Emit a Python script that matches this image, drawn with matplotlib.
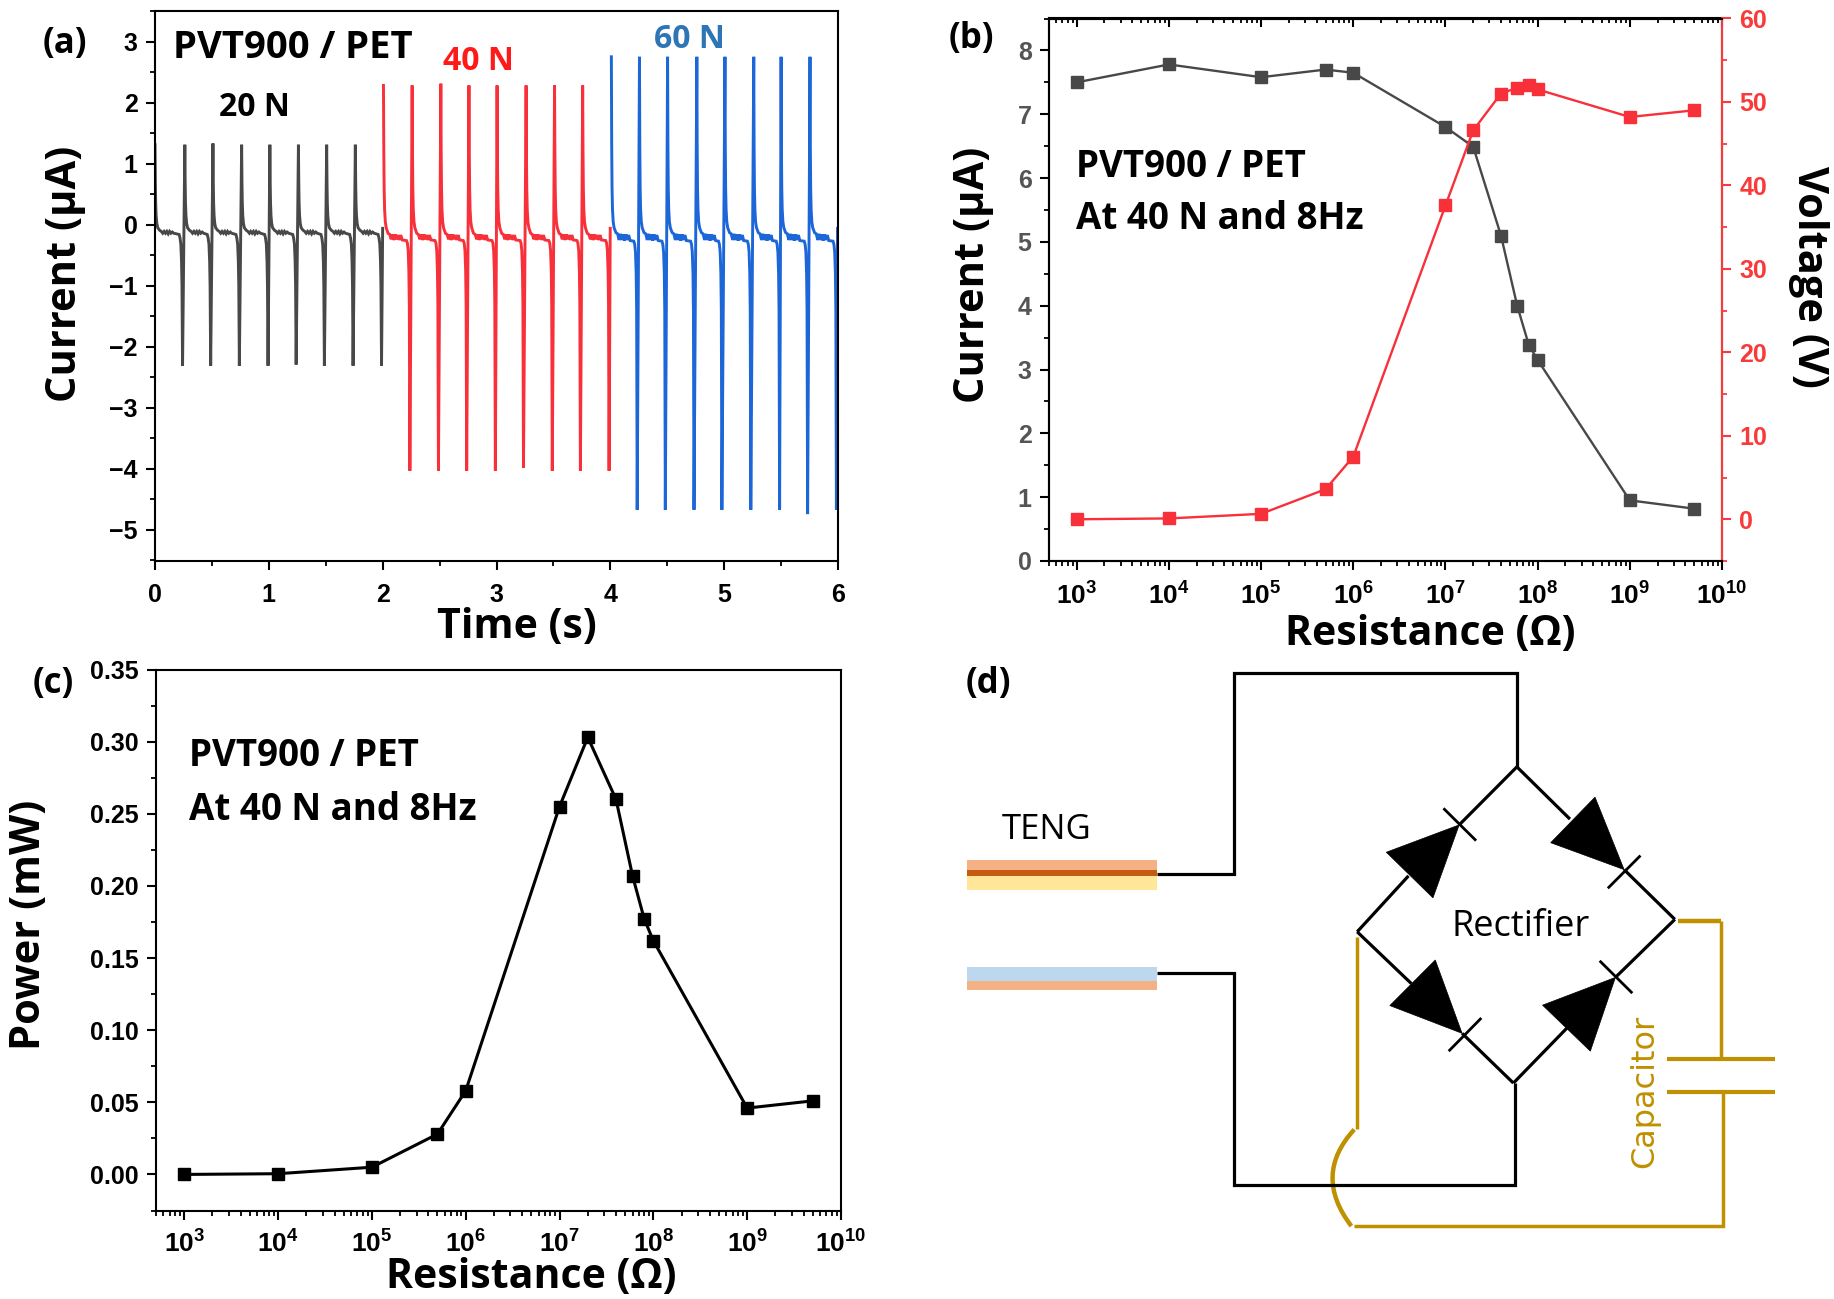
import matplotlib
matplotlib.use("Agg")
import matplotlib.pyplot as plt
from matplotlib.path import Path
from matplotlib.patches import PathPatch, Polygon, Rectangle
from matplotlib.ticker import FuncFormatter, LogLocator, MultipleLocator, NullFormatter
import numpy as np

W, H = 1834, 1299
LABEL_FONT = "Open Sans"
TICK_FONT = "Liberation Sans"
plt.rcParams["mathtext.fontset"] = "custom"
plt.rcParams["mathtext.bf"] = "Liberation Sans:bold"
plt.rcParams["mathtext.rm"] = "Liberation Sans:bold"
plt.rcParams["axes.unicode_minus"] = True

# ---------- panel (a) ----------
black_peak_t = [0.0, 0.262, 0.509, 0.761, 1.009, 1.26, 1.508, 1.76]
black_trough_t = [0.242, 0.489, 0.741, 0.993, 1.24, 1.488, 1.74, 1.99]
black_peak_v = [1.31, 1.31, 1.33, 1.31, 1.31, 1.31, 1.31, 1.31]
black_trough_v = [-2.31, -2.31, -2.31, -2.31, -2.29, -2.31, -2.31, -2.31]
black_decay = [0.7, 0.35, 0.15, 0.02, -0.05, -0.09]
black_plateau = [-0.11, -0.14, -0.11, -0.14, -0.11, -0.15, -0.11, -0.14, -0.12, -0.14]
black_fall = [-0.16, -0.22, -0.32, -0.6, -1.0]

red_peak_t = [2.007, 2.259, 2.511, 2.758, 3.005, 3.26, 3.51, 3.757]
red_trough_t = [2.239, 2.49, 2.738, 2.99, 3.237, 3.49, 3.737, 3.989]
red_peak_v = [2.28, 2.28, 2.31, 2.28, 2.28, 2.28, 2.28, 2.28]
red_trough_v = [-4.03, -4.03, -4.03, -4.03, -3.98, -4.03, -4.03, -4.03]
red_decay = [1.2, 0.6, 0.25, 0.05, -0.05, -0.14]
red_plateau = [-0.16, -0.24, -0.16, -0.25, -0.16, -0.24, -0.17, -0.25, -0.17, -0.25]
red_fall = [-0.26, -0.3, -0.42, -0.75, -1.3]

blue_peak_t = [4.009, 4.256, 4.503, 4.76, 5.007, 5.26, 5.5, 5.754]
blue_trough_t = [4.236, 4.483, 4.735, 4.98, 5.234, 5.487, 5.733, 5.986]
blue_peak_v = [2.75, 2.75, 2.75, 2.75, 2.75, 2.75, 2.75, 2.75]
blue_trough_v = [-4.67, -4.67, -4.67, -4.67, -4.67, -4.67, -4.74, -4.67]
blue_decay = [1.3, 0.6, 0.25, 0.05, -0.05, -0.13]
blue_plateau = [-0.15, -0.25, -0.15, -0.25, -0.16, -0.26, -0.16, -0.25, -0.17, -0.26]
blue_fall = [-0.27, -0.32, -0.45, -0.8, -1.4]

decay_dt = [0.003, 0.006, 0.01, 0.016, 0.024, 0.04]
plateau_dt = [0.055, 0.068, 0.08, 0.092, 0.104, 0.116, 0.128, 0.14, 0.152, 0.165]
fall_before_trough = [0.03, 0.022, 0.015, 0.009, 0.005]

# ---------- panels (b), (c) ----------
resistance = [1e3, 1e4, 1e5, 5e5, 1e6, 1e7, 2e7, 4e7, 6e7, 8e7, 1e8, 1e9, 5e9]
current_b = [7.5, 7.78, 7.58, 7.7, 7.65, 6.8, 6.49, 5.1, 4.0, 3.39, 3.15, 0.95, 0.82]
voltage_b = [0.0, 0.1, 0.65, 3.6, 7.5, 37.6, 46.6, 51.0, 51.7, 52.0, 51.5, 48.2, 49.0]
power_c = [0.0, 0.0005, 0.005, 0.028, 0.058, 0.255, 0.303, 0.26, 0.207, 0.177, 0.162, 0.046, 0.051]
decade_ticks = [1e3, 1e4, 1e5, 1e6, 1e7, 1e8, 1e9, 1e10]

C_BLACK, C_RED, C_BLUE = "#484848", "#F7303A", "#1C66D8"
C_GREY_TICK = "#555555"
C_RED_AXIS = "#F93A3A"


def trace(peak_t, peak_v, trough_t, trough_v, decay, plateau, fall):
    xs, ys = [], []
    for pt, pv, tt, tv in zip(peak_t, peak_v, trough_t, trough_v):
        xs.append(pt); ys.append(pv)
        for d, s in zip(decay_dt + plateau_dt, decay + plateau):
            xs.append(pt + d); ys.append(s)
        for d, s in zip(fall_before_trough, fall):
            xs.append(tt - d); ys.append(s)
        xs.append(tt); ys.append(tv)
    xs.append(trough_t[-1] + 0.01); ys.append(-0.06)
    return xs, ys


fig = plt.figure(figsize=(W / 100, H / 100), dpi=100, facecolor="white")


def px_axes(l, t, r, b):
    return fig.add_axes([l / W, 1 - b / H, (r - l) / W, (b - t) / H])


def place_label(axis, px, py):
    axis.set_label_coords(px / W, 1 - py / H, transform=fig.transFigure)
    axis.label.set_verticalalignment("center")
    axis.label.set_horizontalalignment("center")


def ftext(px, py, s, size, weight="bold", color="black", ha="center", family=LABEL_FONT, rotation=0):
    fig.text(px / W, 1 - (py + 3) / H, s, fontsize=size, fontweight=weight, color=color,
             ha=ha, va="center", family=family, rotation=rotation)


def style(ax):
    for s in ax.spines.values():
        s.set_linewidth(1.5)
    ax.tick_params(axis="both", which="major", direction="out", length=6.5, width=1.5,
                   labelsize=18, top=False, right=False)
    ax.tick_params(axis="both", which="minor", direction="out", length=3.5, width=1.3,
                   top=False, right=False)
    for lab in ax.get_xticklabels() + ax.get_yticklabels():
        lab.set_family(TICK_FONT)
        lab.set_fontweight("bold")


def log_x(ax):
    ax.set_xscale("log")
    ax.set_xlim(500, 1e10)
    ax.set_xticks(decade_ticks)
    ax.xaxis.set_major_formatter(FuncFormatter(lambda v, _: r"$\mathbf{10^{%d}}$" % round(np.log10(v))))
    ax.xaxis.set_minor_locator(LogLocator(base=10, subs=(2, 3, 4, 5, 6, 7, 8, 9), numticks=20))
    ax.xaxis.set_minor_formatter(NullFormatter())


# Panel (a)
ax = px_axes(155, 11, 838, 560.5)
for series, col in (((black_peak_t, black_peak_v, black_trough_t, black_trough_v, black_decay, black_plateau, black_fall), C_BLACK),
                    ((red_peak_t, red_peak_v, red_trough_t, red_trough_v, red_decay, red_plateau, red_fall), C_RED),
                    ((blue_peak_t, blue_peak_v, blue_trough_t, blue_trough_v, blue_decay, blue_plateau, blue_fall), C_BLUE)):
    x, y = trace(*series)
    ax.plot(x, y, color=col, lw=2.1, solid_joinstyle="miter")
ax.set_xlim(0, 6)
ax.set_ylim(-5.5, 3.5)
ax.xaxis.set_major_locator(MultipleLocator(1))
ax.xaxis.set_minor_locator(MultipleLocator(0.5))
ax.yaxis.set_major_locator(MultipleLocator(1))
ax.yaxis.set_minor_locator(MultipleLocator(0.5))
style(ax)
ax.tick_params(axis="x", which="major", pad=10)
ax.tick_params(axis="y", which="major", pad=6)
ax.set_ylabel("Current (µA)", fontsize=30, fontweight="bold", family=LABEL_FONT)
ax.set_xlabel("Time (s)", fontsize=29.5, fontweight="bold", family=LABEL_FONT)
place_label(ax.yaxis, 66, 274)
place_label(ax.xaxis, 517, 628)
ftext(65, 41, "(a)", 25)
ftext(293, 45, "PVT900 / PET", 27.5)
ftext(254, 105, "20 N", 23)
ftext(478, 58, "40 N", 23, color="#FF1A1A")
ftext(689, 36, "60 N", 23, color="#2E75B6")

# Panel (b)
ax = px_axes(1049, 18.5, 1722, 561)
ax.plot(resistance, current_b, "-s", color=C_BLACK, lw=1.7, ms=8)
log_x(ax)
ax.set_ylim(0, 8.5)
ax.yaxis.set_major_locator(MultipleLocator(1))
ax.yaxis.set_minor_locator(MultipleLocator(0.5))
style(ax)
ax.tick_params(axis="x", which="major", pad=9, labelsize=19)
ax.tick_params(axis="y", which="major", pad=6, labelcolor=C_GREY_TICK)
ax.set_ylabel("Current (µA)", fontsize=30, fontweight="bold", family=LABEL_FONT)
ax.set_xlabel("Resistance (Ω)", fontsize=29.5, fontweight="bold", family=LABEL_FONT)
place_label(ax.yaxis, 973, 275)
place_label(ax.xaxis, 1430, 634)

top = ax.secondary_xaxis("top")
top.set_xticks(decade_ticks)
top.xaxis.set_major_formatter(NullFormatter())
top.xaxis.set_minor_locator(LogLocator(base=10, subs=(2, 3, 4, 5, 6, 7, 8, 9), numticks=20))
top.xaxis.set_minor_formatter(NullFormatter())
top.tick_params(axis="x", which="major", direction="in", length=6.5, width=1.5)
top.tick_params(axis="x", which="minor", direction="in", length=3.5, width=1.3)
top.spines["top"].set_linewidth(1.5)

axr = ax.twinx()
axr.plot(resistance, voltage_b, "-s", color=C_RED, lw=1.7, ms=8)
axr.set_xlim(500, 1e10)
axr.set_ylim(-5, 60)
axr.yaxis.set_major_locator(MultipleLocator(10))
axr.yaxis.set_minor_locator(MultipleLocator(5))
axr.tick_params(axis="y", which="major", direction="out", length=6.5, width=1.5, labelsize=18,
                color=C_RED_AXIS, labelcolor=C_RED_AXIS, pad=6)
axr.tick_params(axis="y", which="minor", direction="out", length=3.5, width=1.3, color=C_RED_AXIS)
for lab in axr.get_yticklabels():
    lab.set_family(TICK_FONT)
    lab.set_fontweight("bold")
for s in axr.spines.values():
    s.set_linewidth(1.5)
axr.spines["right"].set_color(C_RED_AXIS)
axr.set_ylabel("Voltage (V)", fontsize=30, fontweight="bold", family=LABEL_FONT, rotation=270)
place_label(axr.yaxis, 1809, 277)
ftext(1076, 164, "PVT900 / PET", 26.5, ha="left")
ftext(1076, 216, "At 40 N and 8Hz", 26.5, ha="left")
ftext(971, 36, "(b)", 25)

# Panel (c)
ax = px_axes(156, 669.5, 841, 1210.5)
ax.plot(resistance, power_c, "-s", color="black", lw=2.2, ms=8.6)
log_x(ax)
ax.set_ylim(-0.025, 0.35)
ax.yaxis.set_major_locator(MultipleLocator(0.05))
ax.yaxis.set_minor_locator(MultipleLocator(0.025))
ax.yaxis.set_major_formatter(FuncFormatter(lambda v, _: f"{v:.2f}"))
style(ax)
ax.tick_params(axis="x", which="major", pad=8, labelsize=19)
ax.tick_params(axis="y", which="major", pad=6)
ax.set_ylabel("Power (mW)", fontsize=30, fontweight="bold", family=LABEL_FONT)
ax.set_xlabel("Resistance (Ω)", fontsize=29.5, fontweight="bold", family=LABEL_FONT)
place_label(ax.yaxis, 29, 925)
place_label(ax.xaxis, 531, 1277)
ftext(189, 753.5, "PVT900 / PET", 26.5, ha="left")
ftext(189, 806.5, "At 40 N and 8Hz", 26.5, ha="left")
ftext(53, 681, "(c)", 25)

# Panel (d): schematic
sk = fig.add_axes([920 / W, 0, 914 / W, 649 / H])
sk.set_xlim(0, 1568)
sk.set_ylim(1566, 0)
sk.axis("off")
GOLD = "#BF9000"


def wire(pts, color="black", lw=2.3):
    xs, ys = zip(*pts)
    sk.plot(xs, ys, color=color, lw=lw, solid_joinstyle="miter", solid_capstyle="butt")


for x0, x1, y0, y1, col in [(81, 407, 507, 530, "#F4B183"), (81, 407, 530, 545, "#C55A11"),
                            (81, 407, 545, 580, "#FFE699"), (81, 407, 765, 798, "#BDD7EE"),
                            (81, 407, 798, 820, "#F4B183")]:
    sk.add_patch(Rectangle((x0, y0), x1 - x0, y1 - y0, fc=col, ec="none"))

wire([(407, 540), (539, 540), (539, 55), (1024, 55), (1024, 282)])
wire([(1021, 1045), (1021, 1290), (539, 1290), (539, 780), (407, 780)])
wire([(1024, 282), (1115, 408)])
wire([(1208, 530), (1295, 650)])
wire([(1024, 282), (925, 422)])
wire([(838, 545), (750, 680)])
wire([(750, 680), (843, 805)])
wire([(930, 925), (1018, 1045)])
wire([(1018, 1045), (1110, 912)])
wire([(1193, 790), (1295, 650)])
for tri, bar in [([(1158, 355), (1082, 465), (1208, 530)], [(1180, 575), (1236, 496)]),
                 ([(800, 488), (880, 598), (925, 422)], [(898, 382), (954, 460)]),
                 ([(884, 748), (806, 858), (930, 925)], [(907, 968), (963, 888)]),
                 ([(1068, 857), (1150, 968), (1193, 790)], [(1166, 750), (1222, 828)])]:
    sk.add_patch(Polygon(tri, closed=True, fc="black", ec="black", lw=0.5))
    wire(bar, lw=2.0)

wire([(750, 692), (750, 1157)], GOLD, 2.5)
wire([(745, 1390), (1378, 1390), (1378, 1067)], GOLD, 2.5)
wire([(1282, 1067), (1467, 1067)], GOLD, 3.0)
wire([(1282, 988), (1467, 988)], GOLD, 3.0)
wire([(1375, 988), (1375, 655)], GOLD, 2.5)
wire([(1375, 655), (1300, 655)], GOLD, 3.2)
sk.add_patch(PathPatch(Path([(745, 1157), (673, 1267), (740, 1390)],
                            [Path.MOVETO, Path.CURVE3, Path.CURVE3]),
                       fc="none", ec=GOLD, lw=3.2))

sk.text(217, 435, "TENG", fontsize=25, family=LABEL_FONT, ha="center", va="center", color="black")
sk.text(1030, 669, "Rectifier", fontsize=26, family=LABEL_FONT, ha="center", va="center", color="black")
sk.text(1243, 1065, "Capacitor", fontsize=23, family="DejaVu Sans", color=GOLD, rotation=90,
        ha="center", va="center")
sk.text(118, 82, "(d)", fontsize=25, fontweight="bold", family=LABEL_FONT, ha="center", va="center")

fig.savefig("out.png", dpi=100, facecolor="white")
